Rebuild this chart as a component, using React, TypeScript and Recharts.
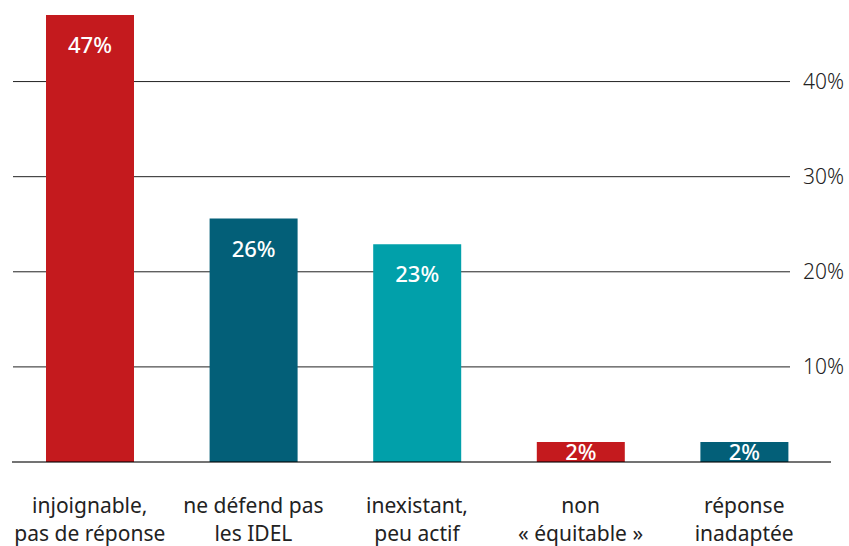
import React from 'react';
import { BarChart, Bar, XAxis, YAxis, CartesianGrid, Cell, LabelList, ReferenceLine } from 'recharts';

const categories = [
    ['injoignable,', 'pas de réponse'],
    ['ne défend pas', 'les IDEL'],
    ['inexistant,', 'peu actif'],
    ['non', '« équitable »'],
    ['réponse', 'inadaptée'],
];
const values = [47, 25.6, 22.9, 2.1, 2.1];
const barColors = ['#c41a1e', '#035f78', '#01a0aa', '#c41a1e', '#035f78'];
const yTicks = [0, 10, 20, 30, 40];

const FONT = '"Noto Sans", sans-serif';

const data = categories.map((lines, i) => ({ name: lines.join(' '), lines, value: values[i] }));

const CategoryTick = (props: any) => {
    const { x, y, index } = props;
    const lines = data[index]?.lines || [];
    return (
        <text x={x} y={y} textAnchor="middle" fill="#222" fontSize={21} fontFamily={FONT}>
            {lines.map((l: string, i: number) => (
                <tspan key={i} x={x} dy={i === 0 ? 51 : 28}>{l}</tspan>
            ))}
        </text>
    );
};

const PercentTick = (props: any) => {
    const { x, y, payload } = props;
    if (payload.value === 0) return null;
    return (
        <text x={x - 23} y={y + 7} textAnchor="start" fill="#222" fontSize={21} fontFamily={FONT} fontWeight={300}>
            {payload.value}%
        </text>
    );
};

const BarLabel = (props: any) => {
    const { x, y, width, height, value } = props;
    const ty = height > 40 ? y + 38 : y + height / 2 + 8;
    return (
        <text x={x + width / 2} y={ty} textAnchor="middle" fill="#fff" fontSize={22} fontWeight={500} fontFamily={FONT}>
            {Math.round(value)}%
        </text>
    );
};

const gridLine = (props: any) => {
    const { x1, x2, y1 } = props;
    // skip the chart's top edge and the baseline (drawn separately above the bars)
    if (y1 < 30 || y1 > 455) return <g key={props.key} />;
    return <line key={props.key} x1={x1 + 5} x2={x2 - 36} y1={y1} y2={y1} stroke="#222" strokeWidth={1} />;
};

export default function App() {
    return (
        <div style={{ position: 'absolute', left: 0, top: 0, background: '#fff' }}>
            <BarChart width={849} height={546} data={data} margin={{ top: 15, right: 0, left: 8, bottom: 0 }}>
                <CartesianGrid vertical={false} horizontal={gridLine} />
                <XAxis
                    dataKey="name"
                    height={84}
                    axisLine={false}
                    tickLine={false}
                    tickSize={0}
                    tickMargin={0}
                    interval={0}
                    tick={<CategoryTick />}
                />
                <YAxis
                    orientation="right"
                    width={23}
                    domain={[0, 47]}
                    ticks={yTicks}
                    axisLine={false}
                    tickLine={false}
                    tickSize={0}
                    tickMargin={0}
                    tick={<PercentTick />}
                    allowDataOverflow
                />
                <Bar dataKey="value" barSize={88} isAnimationActive={false}>
                    {data.map((d, i) => (
                        <Cell key={d.name} fill={barColors[i]} />
                    ))}
                    <LabelList dataKey="value" content={<BarLabel />} />
                </Bar>
                <ReferenceLine
                    y={0}
                    shape={(p: any) => (
                        <line x1={p.x1 + 5} x2={p.x2 + 4} y1={p.y1} y2={p.y1} stroke="#000" strokeOpacity={0.55} strokeWidth={2} />
                    )}
                />
            </BarChart>
        </div>
    );
}
